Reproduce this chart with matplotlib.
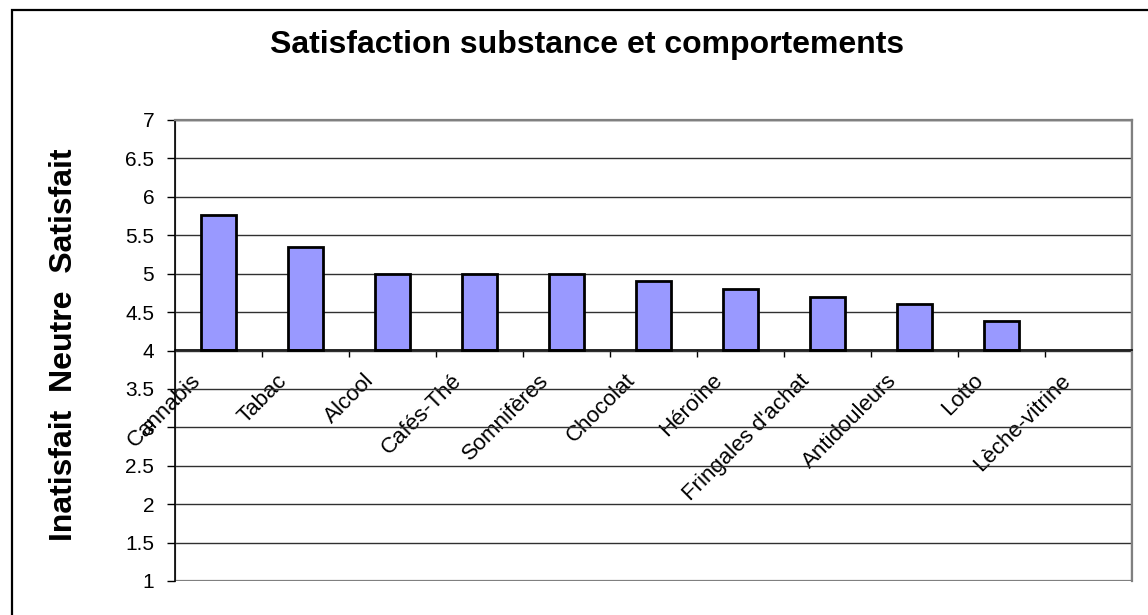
"""Bar chart of satisfaction scores by substance / behaviour."""

import matplotlib

matplotlib.use("Agg")

import matplotlib.pyplot as plt  # noqa: E402
from matplotlib.patches import Rectangle  # noqa: E402

categories = [
    "Cannabis", "Tabac", "Alcool", "Cafés-Thé", "Somnifères", "Chocolat",
    "Héroïne", "Fringales d'achat", "Antidouleurs", "Lotto", "Lèche-vitrine",
]
scores = [5.77, 5.35, 5.0, 5.0, 5.0, 4.9, 4.8, 4.7, 4.6, 4.38, 4.0]
y_ticks = [1, 1.5, 2, 2.5, 3, 3.5, 4, 4.5, 5, 5.5, 6, 6.5, 7]
y_tick_labels = ["1", "1.5", "2", "2.5", "3", "3.5", "4", "4.5", "5", "5.5", "6", "6.5", "7"]
baseline = 4

plt.rcParams["font.family"] = ["Liberation Sans", "DejaVu Sans"]

fig = plt.figure(figsize=(11.48, 6.15), dpi=100)
fig.patch.set_facecolor("white")

# outer chart frame (only left and top edges fall inside the canvas)
fig.add_artist(Rectangle((12 / 1148, -0.1), 1.2, 0.1 + (1 - 10 / 615),
                         transform=fig.transFigure, fill=False,
                         edgecolor="black", linewidth=1.6))

ax = fig.add_axes([175 / 1148, 1 - 581 / 615, (1132 - 175) / 1148, (581 - 120) / 615])

n = len(categories)
xs = list(range(n))
heights = [s - baseline for s in scores]
edge_w = [2.0 if h > 0 else 0 for h in heights]
ax.bar(xs, heights, bottom=baseline, width=0.4, color="#9999FF",
       edgecolor="black", linewidth=edge_w, zorder=3)

ax.set_xlim(-0.5, n - 0.5)
ax.set_ylim(y_ticks[0], y_ticks[-1])

ax.set_yticks(y_ticks)
ax.set_yticklabels(y_tick_labels, fontsize=15)
ax.yaxis.grid(True, color="#303030", linewidth=1.0)
ax.set_axisbelow(True)
ax.tick_params(axis="y", direction="out", length=6, width=1, pad=9, colors="black")

# category axis crosses the value axis at the baseline
ax.spines["bottom"].set_position(("data", baseline))
ax.spines["bottom"].set_color("black")
ax.spines["bottom"].set_linewidth(1.2)
ax.spines["bottom"].set_zorder(4)
ax.spines["left"].set_color("black")
ax.spines["left"].set_linewidth(1.2)
for side in ("top", "right"):
    ax.spines[side].set_color("#808080")
    ax.spines[side].set_linewidth(1.6)
ax.add_patch(Rectangle((0, 0), 1, 1, transform=ax.transAxes, fill=False,
                       edgecolor="#808080", linewidth=1.6, zorder=2))

ax.set_xticks([i + 0.5 for i in xs[:-1]])
ax.set_xticklabels([])
# labels sit a little left of each category centre
ax.set_xticks([i - 0.33 for i in xs], minor=True)
ax.set_xticklabels(categories, minor=True, rotation=45, ha="right",
                   rotation_mode="anchor", fontsize=16)
ax.tick_params(axis="x", which="major", direction="out", length=5, width=1)
ax.tick_params(axis="x", which="minor", length=0, pad=14)

fig.text(587 / 1148, 1 - 45 / 615, "Satisfaction substance et comportements",
         fontsize=23, fontweight="bold", ha="center", va="center")
fig.text(64 / 1148, 1 - 345 / 615, "Inatisfait  Neutre  Satisfait",
         rotation=90, fontsize=23, fontweight="bold", ha="center", va="center")

fig.savefig("out.png", dpi=100, facecolor="white")
